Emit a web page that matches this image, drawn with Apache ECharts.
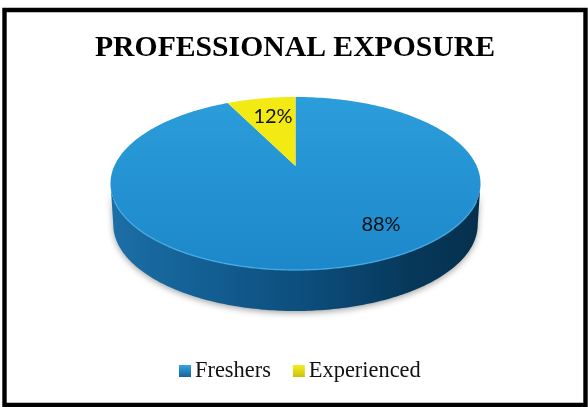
<!DOCTYPE html>
<html><head><meta charset="utf-8">
<style>html,body{margin:0;padding:0;background:#fff}#c{width:588px;height:407px}</style>
<script src="https://cdn.jsdelivr.net/npm/echarts@6/dist/echarts.min.js"></script>
</head><body><div id="c"></div>
<script>
var titleText = 'PROFESSIONAL EXPOSURE';
var categories = ['Freshers', 'Experienced'];
var values = [88, 12];

var view = {cx: 295.5, cy: 183.5, rx: 185, ry: 86.5, apexY: 166, depth: 41, warp: 31.7, baseScale: 0.985};
var labelAt = [[381, 225], [273, 117]];
var total = values.reduce(function (a, b) { return a + b; }, 0);
var rad = Math.PI / 180;

function warp(a) { return a - view.warp * Math.sin(a * rad); }
function rim(t, dy, scale) {
  return [view.cx + view.rx * (scale || 1) * Math.sin(t * rad), view.cy - view.ry * Math.cos(t * rad) + (dy || 0)];
}
function arc(t0, t1, dy, scale) {
  var pts = [], n = Math.max(2, Math.ceil(Math.abs(t1 - t0)));
  for (var i = 0; i <= n; i++) pts.push(rim(t0 + (t1 - t0) * i / n, dy, scale));
  return pts;
}
function grad(x0, y0, x1, y1, stops) {
  return new echarts.graphic.LinearGradient(x0, y0, x1, y1, stops.map(function (s) { return {offset: s[0], color: s[1]}; }), true);
}
var topFill = [
  grad(0, 97, 0, 270, [[0, '#2c9ddb'], [1, '#1c88ca']]),
  '#f2ea12'
];
var wallFill = grad(110, 0, 480, 0, [[0, '#1c6fa7'], [0.25, '#135f94'], [0.55, '#0c4c7a'], [0.8, '#07395c'], [1, '#05304c']]);
var legendFill = [
  new echarts.graphic.LinearGradient(0, 0, 0, 1, [{offset: 0, color: '#38a4e0'}, {offset: 1, color: '#12639c'}]),
  new echarts.graphic.LinearGradient(0, 0, 0, 1, [{offset: 0, color: '#f5ee20'}, {offset: 1, color: '#c9c210'}])
];

function sectorRender(index) {
  return function () {
    var start = 0;
    for (var i = 0; i < index; i++) start += values[i];
    var a0 = start / total * 360, a1 = (start + values[index]) / total * 360;
    var t0 = warp(a0), t1 = warp(a1);
    var children = [];
    var w0 = Math.max(t0, 90), w1 = Math.min(t1, 270);
    if (w1 > w0) {
      var upper = arc(w0, w1, 0), lower = arc(w1, w0, view.depth, view.baseScale);
      children.push({type: 'polygon', shape: {points: upper.concat(lower)},
        style: {fill: wallFill, shadowBlur: 6, shadowColor: 'rgba(0,0,0,0.35)', shadowOffsetY: 2}});
    }
    var apex = [view.cx, view.apexY];
    children.push({type: 'polygon', shape: {points: [apex].concat(arc(t0, t1, 0))}, style: {fill: topFill[index]}});
    if (w1 > w0) {
      children.push({type: 'polyline', shape: {points: arc(w0 + 12, w1 - 12, 0)},
        style: {fill: null, stroke: '#49b0e8', lineWidth: 1.4, opacity: 0.8}});
    }
    children.push({type: 'text', style: {text: values[index] + '%', x: labelAt[index][0], y: labelAt[index][1],
      align: 'center', verticalAlign: 'middle', fontFamily: 'Lato', fontSize: 20, fill: '#111'}});
    return {type: 'group', children: children};
  };
}

var chart = echarts.init(document.getElementById('c'), null, {renderer: 'canvas'});
chart.setOption({
  animation: false,
  backgroundColor: '#fff',
  title: {text: titleText, left: 290, top: 28, textAlign: 'center',
    textStyle: {fontFamily: 'Liberation Serif', fontWeight: 'bold', fontSize: 29.7, color: '#000'}},
  legend: {
    data: categories, left: 179, top: 360, padding: 0, itemWidth: 12, itemHeight: 12, itemGap: 22, icon: 'rect',
    textStyle: {fontFamily: 'Liberation Serif', fontSize: 22.4, color: '#111', padding: [0, 0, 0, -1]}
  },
  graphic: [{type: 'rect', z: 100, silent: true, shape: {x: 4.5, y: 10, width: 581, height: 395},
    style: {fill: null, stroke: '#000', lineWidth: 4.4}}],
  series: categories.map(function (name, i) {
    return {type: 'custom', name: name, coordinateSystem: 'none', silent: true,
      itemStyle: {color: legendFill[i]}, data: [[values[i]]], renderItem: sectorRender(i)};
  })
});
</script></body></html>
